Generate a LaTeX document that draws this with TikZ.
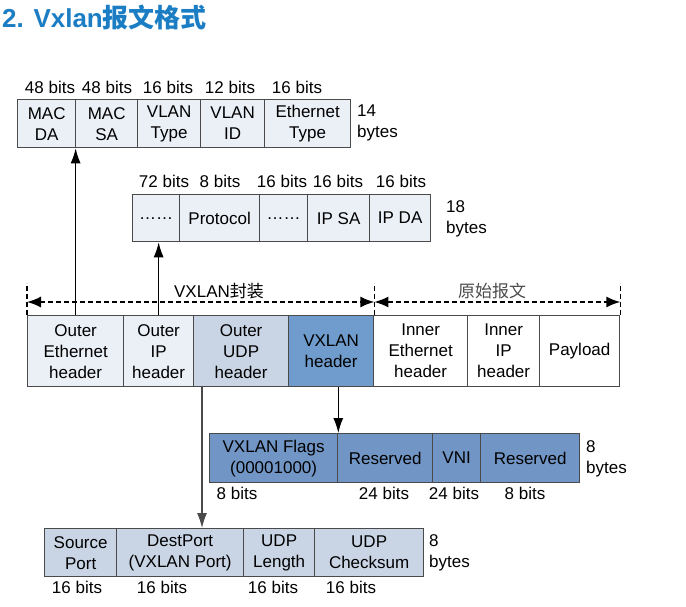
\documentclass[tikz,border=0pt]{standalone}
\usepackage{fontspec}
\setmainfont{Liberation Sans}
\newfontfamily\cjk{Noto Sans CJK SC}
\usetikzlibrary{arrows.meta}

\definecolor{titleblue}{HTML}{1B7DC3}
\definecolor{linegray}{HTML}{4A4A4A}
\definecolor{lightfield}{HTML}{EBEFF6}
\definecolor{udpfield}{HTML}{C9D5E5}
\definecolor{vxfield}{HTML}{6F9CCC}
\definecolor{flagfield}{HTML}{7196C5}

\begin{document}
\begin{tikzpicture}[x=1pt,y=-1pt,
  every node/.style={font=\fontsize{17}{21}\selectfont, inner sep=0pt},
  field/.style={draw=linegray, line width=1.3pt, anchor=north west,
                align=center, minimum width=#1},
  bits/.style={anchor=base},
  bytes/.style={anchor=west, align=left},
  conn/.style={-{Latex[length=15pt,width=10pt]}, line width=1.2pt},
  span/.style={{Latex[length=14pt,width=11pt]}-{Latex[length=14pt,width=11pt]},
               dash pattern=on 5pt off 3pt, line width=1.5pt},
  tick/.style={dash pattern=on 5pt off 3pt, line width=1.5pt}]
  \useasboundingbox (0,0) rectangle (686,607);

  \node[anchor=base west, text=titleblue,
        font=\fontsize{26}{30}\selectfont\bfseries] (title) at (2,28)
        {2. Vxlan{\cjk 报文格式}};

  % Ethernet header fields
  \begin{scope}[every node/.append style={minimum height=48pt, fill=lightfield}]
    \node[field=58pt] (macda) at (17,99)  {MAC\\DA};
    \node[field=62pt] (macsa) at (75,99)  {MAC\\SA};
    \node[field=63pt] (vtype) at (137,99) {VLAN\\Type};
    \node[field=64pt] (vid)   at (200,99) {VLAN\\ID};
    \node[field=86pt] (etype) at (264,99) {Ethernet\\Type};
  \end{scope}
  \foreach \x/\t [count=\i] in {50/48 bits,107/48 bits,168/16 bits,230/12 bits,297/16 bits}
    \node[bits] (ethbits\i) at (\x,94) {\t};
  \node[bytes] (ethbytes) at (357,123) {14\\bytes};

  % IP header fields
  \begin{scope}[every node/.append style={minimum height=47pt, fill=lightfield}]
    \node[field=47pt] (ipopt) at (132,194) {……};
    \node[field=80pt] (proto) at (179,194) {Protocol};
    \node[field=48pt] (ipmid) at (259,194) {……};
    \node[field=62pt] (ipsa)  at (307,194) {IP SA};
    \node[field=61pt] (ipda)  at (369,194) {IP DA};
  \end{scope}
  \foreach \x/\t [count=\i] in {164/72 bits,220/8 bits,282/16 bits,338/16 bits,401/16 bits}
    \node[bits] (ipbits\i) at (\x,188) {\t};
  \node[bytes] (ipbytes) at (446,219) {18\\bytes};

  % whole packet
  \begin{scope}[every node/.append style={minimum height=71pt}]
    \node[field=96pt, fill=lightfield] (oeth) at (27,315)  {Outer\\Ethernet\\header};
    \node[field=70pt, fill=lightfield] (oip)  at (123,315) {Outer\\IP\\header};
    \node[field=95pt, fill=udpfield]   (oudp) at (193,315) {Outer\\UDP\\header};
    \node[field=85pt, fill=vxfield]    (vxh)  at (288,315) {VXLAN\\header};
    \node[field=94pt, fill=white]      (ieth) at (373,315) {Inner\\Ethernet\\header};
    \node[field=72pt, fill=white]      (iip)  at (467,315) {Inner\\IP\\header};
    \node[field=80pt, fill=white]      (pay)  at (539,315) {Payload};
  \end{scope}

  \draw[tick] (oeth.north west) -- ++(0,-32);
  \draw[tick] (vxh.north east) -- ++(0,-32);
  \draw[tick] (pay.north east) -- ++(0,-32);
  \draw[span] (oeth.north west |- 0,302) -- (vxh.north east |- 0,302);
  \draw[span] (vxh.north east |- 0,302) -- (pay.north east |- 0,302);
  \node[anchor=base] (encap) at (219,297) {VXLAN{\cjk 封装}};
  \node[anchor=base, text=linegray] (orig) at (492,297) {\cjk 原始报文};

  % VXLAN header fields
  \begin{scope}[every node/.append style={minimum height=49pt, fill=flagfield}]
    \node[field=128pt] (flags) at (209,433) {VXLAN Flags\\(00001000)};
    \node[field=95pt]  (res1)  at (337,433) {Reserved};
    \node[field=48pt]  (vni)   at (432,433) {VNI};
    \node[field=99pt]  (res2)  at (480,433) {Reserved};
  \end{scope}
  \foreach \x/\t [count=\i] in {237/8 bits,384/24 bits,454/24 bits,525/8 bits}
    \node[bits] (vxbits\i) at (\x,499) {\t};
  \node[bytes] (vxbytes) at (586,459) {8\\bytes};

  % UDP header fields
  \begin{scope}[every node/.append style={minimum height=48pt, fill=udpfield}]
    \node[field=72pt]  (sport) at (44,528)  {Source\\Port};
    \node[field=127pt] (dport) at (116,528) {DestPort\\(VXLAN Port)};
    \node[field=71pt]  (ulen)  at (243,528) {UDP\\Length};
    \node[field=109pt] (usum)  at (314,528) {UDP\\Checksum};
  \end{scope}
  \foreach \x/\t [count=\i] in {77/16 bits,162/16 bits,273/16 bits,351/16 bits}
    \node[bits] (udpbits\i) at (\x,593) {\t};
  \node[bytes] (udpbytes) at (429,553) {8\\bytes};

  % connectors
  \draw[conn] (oeth.north) -- (oeth.north |- macda.south);
  \draw[conn] (oip.north) -- (oip.north |- ipopt.south);
  \coordinate (udptap) at ([xshift=9pt]oudp.south west);
  \draw[conn, draw=linegray] (udptap) -- (udptap |- dport.north);
  \draw[conn] (vxh.south -| flags.east) -- (flags.north east);
\end{tikzpicture}
\end{document}
